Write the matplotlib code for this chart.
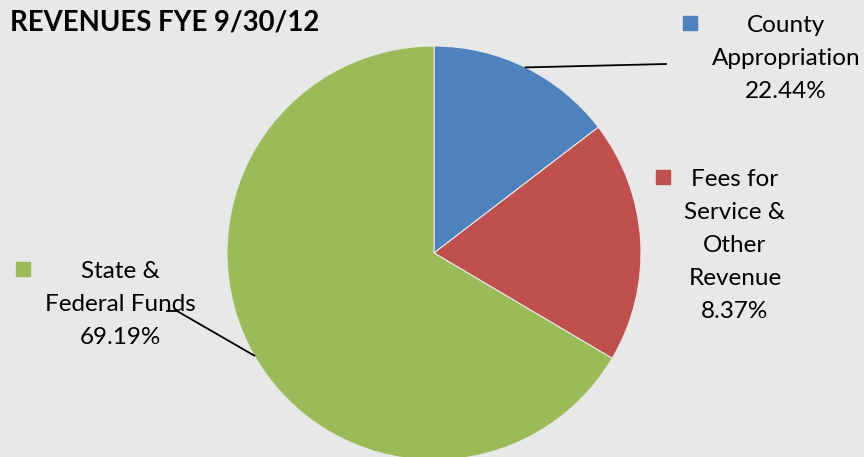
import numpy as np
import matplotlib
matplotlib.use("Agg")
from matplotlib import pyplot as plt

plt.rcParams['font.family'] = ['Lato', 'DejaVu Sans']

# slice sizes as drawn in the picture (the printed labels differ)
categories = [["County", "Appropriation"],
              ["Fees for", "Service &", "Other", "Revenue"],
              ["State &", "Federal Funds"]]
slice_share = [14.6, 18.9, 66.5]
label_pct = ["22.44%", "8.37%", "69.19%"]
colors = ["#4F81BD", "#C0504D", "#9BBB59"]

W, H = 864, 457
bg = "#e8e8e8"
fig = plt.figure(figsize=(W / 100, H / 100), dpi=100)
fig.patch.set_facecolor(bg)
ax = fig.add_axes([0, 0, 1, 1])
ax.set_facecolor(bg)

cx, cy, r = 434, H - 253, 207
wedges, _ = ax.pie(slice_share, colors=colors, startangle=90, counterclock=False,
                   center=(cx, cy), radius=r, frame=True,
                   wedgeprops=dict(linewidth=0.8, edgecolor=bg))
ax.set_xlim(0, W)
ax.set_ylim(0, H)
ax.set_aspect("equal")
ax.axis("off")


def edge_point(w):
    a = np.deg2rad((w.theta1 + w.theta2) / 2)
    return cx + r * np.cos(a), cy + r * np.sin(a)


# leader lines
x0, y0 = edge_point(wedges[0])
ax.plot([x0, 666], [y0, H - 64], color="black", lw=1.3)
x2, y2 = edge_point(wedges[2])
ax.plot([x2, 177, 167], [y2, H - 311, H - 311], color="black", lw=1.3)

# labels with legend keys (first baseline, line step 33 px)
label_pos = [(786, 32), (735, 186), (120, 278)]
key_pos = [(690, 23), (663, 177), (23, 269)]
step = 33
for lines, pct, col, (tx, ty), (kx, ky) in zip(categories, label_pct, colors, label_pos, key_pos):
    for i, s in enumerate(lines + [pct]):
        ax.text(tx, H - (ty + i * step), s, ha="center", va="baseline",
                fontsize=17.5, color="black")
    ax.plot(kx, H - ky, marker="s", markersize=10, color=col, linestyle="none")

ax.text(10, H - 30, "REVENUES FYE 9/30/12", ha="left", va="baseline",
        fontsize=19.8, fontweight="bold", color="black")

fig.savefig("out.png", dpi=100, facecolor=fig.get_facecolor())
